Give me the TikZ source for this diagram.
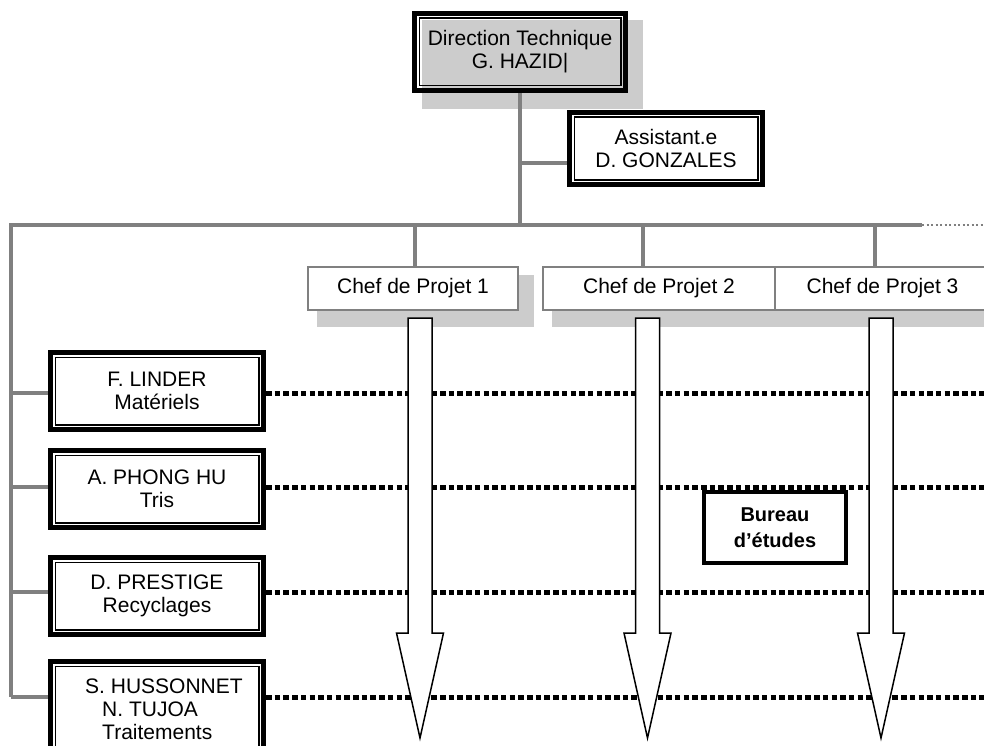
\documentclass[tikz,border=0pt]{standalone}
\usepackage{fontspec}
\setmainfont{Liberation Sans}
\usetikzlibrary{backgrounds}
\definecolor{linkgray}{RGB}{128,128,128}
\definecolor{shadowgray}{RGB}{204,204,204}
\tikzset{
  txt/.style={font=\fontsize{21}{23}\selectfont, align=center},
  heavybox/.style={txt, draw, line width=5pt, inner sep=0pt,
    path picture={\draw[line width=1.5pt]
      ([shift={(4.75pt,-4.75pt)}]path picture bounding box.north west) rectangle
      ([shift={(-4.75pt,4.75pt)}]path picture bounding box.south east);}},
  chefbox/.style={txt, draw=linkgray, line width=2pt, fill=white, minimum height=43pt},
  bureaubox/.style={draw, line width=4pt, fill=white, align=center,
    font=\bfseries\fontsize{20}{26}\selectfont},
  link/.style={draw=linkgray, line width=3.5pt},
  dotline/.style={line width=5pt, dash pattern=on 5.5pt off 3.2pt},
  blockarrow/.style={draw, fill=white, line width=1.5pt}
}
\begin{document}
\begin{tikzpicture}[x=1pt, y=-1pt]
  \useasboundingbox (0,0) rectangle (984,746);
  % direction
  \node[heavybox, minimum width=211pt, minimum height=77pt] (dir) at (520,52) {Direction Technique\\G. HAZID|};
  \node[heavybox, fill=white, minimum width=193pt, minimum height=72pt] (asst) at (666,148.5) {Assistant.e\\D. GONZALES};
  % chefs de projet
  \node[chefbox, minimum width=210pt] (chef1) at (413,288.5) {Chef de Projet 1};
  \node[chefbox, minimum width=232pt] (chef2) at (659,288.5) {Chef de Projet 2};
  \node[chefbox, minimum width=215pt] (chef3) at (882.5,288.5) {Chef de Projet 3};
  % services
  \node[heavybox, minimum width=213pt, minimum height=77pt] (linder) at (157,391) {F. LINDER\\Matériels};
  \node[heavybox, minimum width=213pt, minimum height=77pt] (phong) at (157,489) {A. PHONG HU\\Tris};
  \node[heavybox, minimum width=213pt, minimum height=77pt] (prestige) at (157,596) {D. PRESTIGE\\Recyclages};
  \node[heavybox, minimum width=213pt, minimum height=96pt, align=left] (hussonnet) at (157,709.5)
    {\hspace*{14pt}S. HUSSONNET\\\hspace*{31pt}N. TUJOA\\\hspace*{31pt}Traitements};
  \node[bureaubox, minimum width=142pt, minimum height=71pt] (bureau) at (775,527.5) {Bureau\\d’études};
  % joints
  \coordinate (barL) at (11,225);
  \coordinate (barR) at (922,225);
  \coordinate (barEnd) at (990,225);
  \coordinate (spineEnd) at (11,697);
  \coordinate (ajoin) at (520,163);
  \begin{scope}[on background layer]
    \foreach \n in {dir,chef1,chef2,chef3}
      \fill[shadowgray] ([shift={(10pt,-9pt)}]\n.north west) rectangle ([shift={(15pt,-16pt)}]\n.south east); % shadows
    \draw[link] (barR) -- (barL) -- (spineEnd); % main bar
    \draw[draw=linkgray, line width=2.5pt, dash pattern=on 2pt off 2.5pt] (barR) -- (barEnd);
    \draw[link] (dir.south) -- (dir.south |- barL);
    \draw[link] (ajoin) -- (asst.west |- ajoin);
    \foreach \n/\x in {1/415, 2/643, 3/875}
      \draw[link] (\x,225) -- (\x,225 |- chef\n.north);
    \foreach \n/\y in {linder/393, phong/487, prestige/592, hussonnet/697} {
      \draw[link] (barL |- 0,\y) -- (\n.west |- 0,\y);
      \draw[dotline] (\n.east |- 0,\y) -- (990,\y);
    }
  \end{scope}
  % arrows
  \foreach \x in {420,647.5,881}
    \draw[blockarrow] ({\x-12},318) -- ({\x+12},318) -- ({\x+12},633) -- ({\x+23.5},633)
      -- (\x,738) -- ({\x-23.5},633) -- ({\x-12},633) -- cycle;
\end{tikzpicture}
\end{document}
